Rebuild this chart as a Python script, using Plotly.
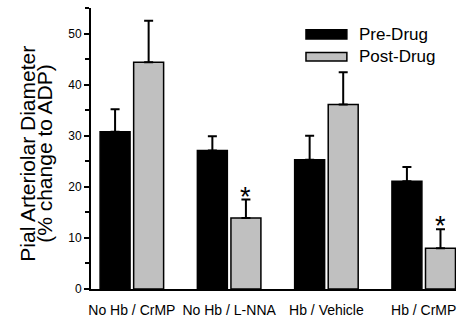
import plotly.graph_objects as go

categories = ["No Hb / CrMP", "No Hb / L-NNA", "Hb / Vehicle", "Hb / CrMP"]
pre_drug = [30.8, 27.1, 25.3, 21.1]
pre_drug_err = [4.4, 2.8, 4.7, 2.8]
post_drug = [44.4, 13.9, 36.1, 8.0]
post_drug_err = [8.1, 3.6, 6.3, 3.7]
significant_post = [False, True, False, True]
y_ticks = [0, 10, 20, 30, 40, 50]

FONT = "Arial, Liberation Sans, sans-serif"
xpos = list(range(len(categories)))

fig = go.Figure()
fig.add_trace(go.Bar(
    x=xpos, y=pre_drug, name="Pre-Drug",
    marker=dict(color="black", line=dict(color="black", width=1.5)),
    error_y=dict(type="data", symmetric=False, array=pre_drug_err,
                 arrayminus=[0] * len(pre_drug), color="black", thickness=2, width=4.5),
    showlegend=False,
))
fig.add_trace(go.Bar(
    x=xpos, y=post_drug, name="Post-Drug",
    marker=dict(color="#c0c0c0", line=dict(color="black", width=1.5)),
    error_y=dict(type="data", symmetric=False, array=post_drug_err,
                 arrayminus=[0] * len(post_drug), color="black", thickness=2, width=4.5),
    showlegend=False,
))

bargap = 0.31
bargroupgap = 0.107
slot = (1 - bargap) / 2
annotations = []
for i, sig in enumerate(significant_post):
    if sig:
        annotations.append(dict(
            x=xpos[i] + slot / 2, y=post_drug[i] + post_drug_err[i],
            xref="x", yref="y", text="*", showarrow=False,
            font=dict(family=FONT, size=27, color="black"),
            yanchor="bottom", yshift=-14,
        ))

# y-axis title (two lines)
annotations.append(dict(x=-0.175, y=0.482, xref="paper", yref="paper",
                        text="Pial Arteriolar Diameter", textangle=-90, showarrow=False,
                        font=dict(family=FONT, size=21, color="black"),
                        xanchor="center", yanchor="middle"))
annotations.append(dict(x=-0.128, y=0.482, xref="paper", yref="paper",
                        text="(% change to ADP)", textangle=-90, showarrow=False,
                        font=dict(family=FONT, size=21, color="black"),
                        xanchor="center", yanchor="middle"))

# legend
legend_items = [("Pre-Drug", "black", 0.890, 0.923, 0.907),
                ("Post-Drug", "#c0c0c0", 0.811, 0.842, 0.826)]
shapes = []
for label, col, y0, y1, yt in legend_items:
    shapes.append(dict(type="rect", xref="paper", yref="paper",
                       x0=0.589, x1=0.701, y0=y0, y1=y1,
                       fillcolor=col, line=dict(color="black", width=1.5)))
    annotations.append(dict(x=0.729, y=yt, xref="paper", yref="paper", text=label,
                            showarrow=False, xanchor="left", yanchor="middle",
                            font=dict(family=FONT, size=17, color="black")))

fig.update_layout(
    width=469, height=325,
    margin=dict(l=91, r=13, t=8, b=36),
    paper_bgcolor="white", plot_bgcolor="white",
    barmode="group", bargap=bargap, bargroupgap=bargroupgap,
    font=dict(family=FONT, color="black"),
    annotations=annotations, shapes=shapes,
    showlegend=False,
)
fig.update_xaxes(
    range=[-0.42, 3.332], tickvals=xpos, ticktext=categories,
    showline=True, linecolor="black", linewidth=2, ticks="",
    ticklabelstandoff=7,
    showgrid=False, zeroline=False, tickfont=dict(family=FONT, size=14, color="black"),
)
fig.update_yaxes(
    range=[0, 55], tickvals=y_ticks, showline=True, linecolor="black", linewidth=2,
    ticks="outside", ticklen=5, tickwidth=1.5, tickcolor="black",
    minor=dict(ticks="outside", dtick=5, ticklen=4, tickwidth=1.5, tickcolor="black"),
    showgrid=False, zeroline=False, tickfont=dict(family=FONT, size=12, color="black"),
)

fig.write_html("out.html", config={"displayModeBar": False},
               post_script="document.body.style.margin='0';")
